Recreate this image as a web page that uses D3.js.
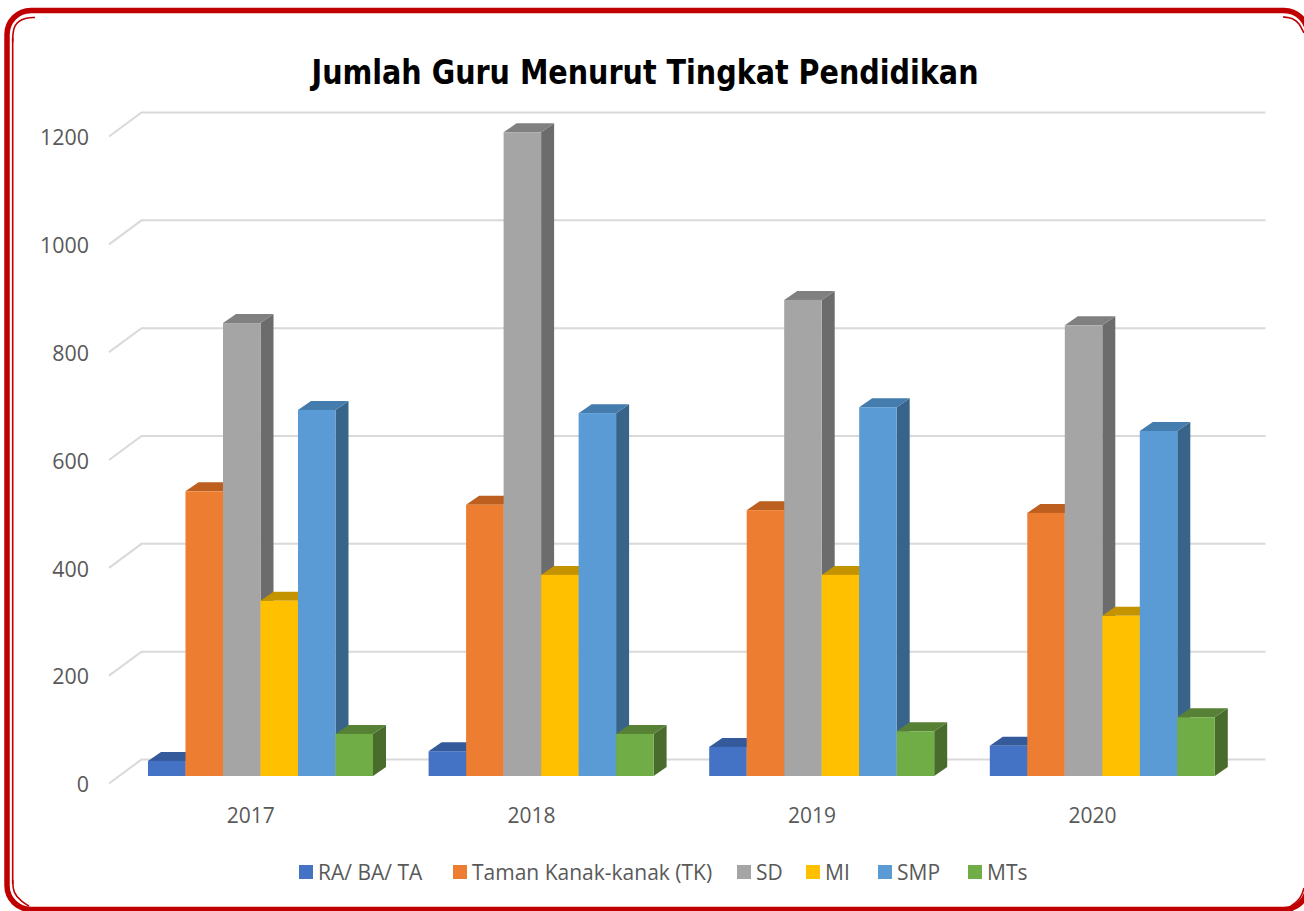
<!DOCTYPE html>
<html><head><meta charset="utf-8">
<script src="https://cdnjs.cloudflare.com/ajax/libs/d3/7.8.5/d3.min.js"></script>
<style>html,body{margin:0;padding:0;background:#fff;overflow:hidden}svg{display:block}</style>
</head><body><div id="c"></div>
<script>
const years = ["2017","2018","2019","2020"];
const seriesNames = ["RA/ BA/ TA","Taman Kanak-kanak (TK)","SD","MI","SMP","MTs"];
const raValues  = [28,46,54,56];
const tkValues  = [528,503,493,488];
const sdValues  = [840,1194,883,836];
const miValues  = [325,373,373,297];
const smpValues = [679,673,684,640];
const mtsValues = [78,78,83,109];
const seriesValues = [raValues,tkValues,sdValues,miValues,smpValues,mtsValues];
const frontColors = ["#4472C4","#ED7D31","#A5A5A5","#FFC000","#5B9BD5","#70AD47"];
const topColors   = ["#345A9C","#BC5F1F","#808080","#C49300","#437CAD","#578236"];
const sideColors  = ["#29477C","#95491A","#6C6C6C","#9A7400","#38648A","#496C2D"];
const yTicks = [0,200,400,600,800,1000,1200];
const titleText = "Jumlah Guru Menurut Tingkat Pendidikan";
const legendX = [299,453,737,806,878,968];

const W=1304,H=911;
const svg=d3.select("#c").append("svg").attr("width",W).attr("height",H);
const font='"Open Sans","Noto Sans",sans-serif';

// frame
svg.append("rect").attr("x",7).attr("y",10.5).attr("width",1301).attr("height",899)
  .attr("rx",24).attr("fill","#fff").attr("stroke","#C00000").attr("stroke-width",5.5);
const thin=svg.append("g").attr("fill","none").attr("stroke","#C00000").attr("stroke-width",1.6);
const lineC=d3.line().curve(d3.curveBasis);
thin.append("path").attr("d",lineC([[35,17.5],[26,17.5],[13,24],[12.7,42]]));
thin.append("line").attr("x1",12.7).attr("x2",12.7).attr("y1",38).attr("y2",884);
thin.append("path").attr("d",lineC([[12.7,880],[13,893],[22,902],[29,906]]));
thin.append("path").attr("d",lineC([[1283,17],[1293,18],[1299,23],[1304,33]]));
thin.append("path").attr("d",lineC([[1291,906],[1298,901],[1302,895],[1304,888]]));

// scales
const y=d3.scaleLinear().domain([0,1200]).range([776,129]);
const x=d3.scaleBand().domain(years).range([110.5,1232.9]).paddingInner(0).paddingOuter(0);
const inner=d3.scaleBand().domain(d3.range(6)).range([37.5,262.5]);
const barDx=13,barDy=9;
const wallDy=-16.5, wallX0=141.5, wallX1=1265.5, floorDx=-32.5, floorDy=24;

// grid
const grid=svg.append("g").attr("fill","none").attr("stroke","#D9D9D9").attr("stroke-width",2);
yTicks.forEach(t=>{
  const yb=y(t)+wallDy;
  grid.append("path").attr("d",`M${wallX0+floorDx},${yb+floorDy}L${wallX0},${yb}L${wallX1},${yb}`);
});

// y axis
const yAxisG=svg.append("g").attr("transform","translate(89,8.5)")
  .call(d3.axisLeft(y).tickValues(yTicks).tickSize(0).tickPadding(0).tickFormat(d3.format("d")));
yAxisG.select(".domain").remove();
yAxisG.selectAll("text").attr("font-family",font).attr("font-size",21.4).attr("fill","#595959").attr("dy",".34em");

// bars
const bars=svg.append("g");
years.forEach((yr,i)=>{
  seriesNames.forEach((s,k)=>{
    const v=seriesValues[k][i];
    const x0=x(yr)+inner(k),w=inner.bandwidth(),yt=y(v),yb=y(0);
    const g=bars.append("g");
    g.append("path").attr("fill",sideColors[k]).attr("d",`M${x0+w},${yt}L${x0+w+barDx},${yt-barDy}L${x0+w+barDx},${yb-barDy}L${x0+w},${yb}Z`);
    g.append("path").attr("fill",topColors[k]).attr("d",`M${x0},${yt}L${x0+barDx},${yt-barDy}L${x0+w+barDx},${yt-barDy}L${x0+w},${yt}Z`);
    g.append("rect").attr("x",x0).attr("y",yt).attr("width",w).attr("height",yb-yt).attr("fill",frontColors[k]);
  });
});

// x axis
const xAxisG=svg.append("g").attr("transform","translate(0,815.5)")
  .call(d3.axisBottom(x).tickSize(0).tickPadding(0));
xAxisG.select(".domain").remove();
xAxisG.selectAll("text").attr("font-family",font).attr("font-size",21).attr("fill","#595959").attr("y",0).attr("dy",".35em");

// title
svg.append("text").attr("x",645).attr("y",84).attr("text-anchor","middle")
  .attr("font-family",'"DejaVu Sans Condensed","DejaVu Sans",sans-serif').attr("font-stretch","condensed")
  .attr("font-weight",700).attr("font-size",34).attr("fill","#000")
  .attr("textLength",667).attr("lengthAdjust","spacingAndGlyphs").text(titleText);

// legend
seriesNames.forEach((s,k)=>{
  svg.append("rect").attr("x",legendX[k]).attr("y",865).attr("width",14).attr("height",14).attr("fill",frontColors[k]);
  svg.append("text").attr("x",legendX[k]+19).attr("y",873).attr("dy",".35em").attr("font-family",font)
    .attr("font-size",21).attr("fill","#595959").text(s);
});
</script></body></html>
